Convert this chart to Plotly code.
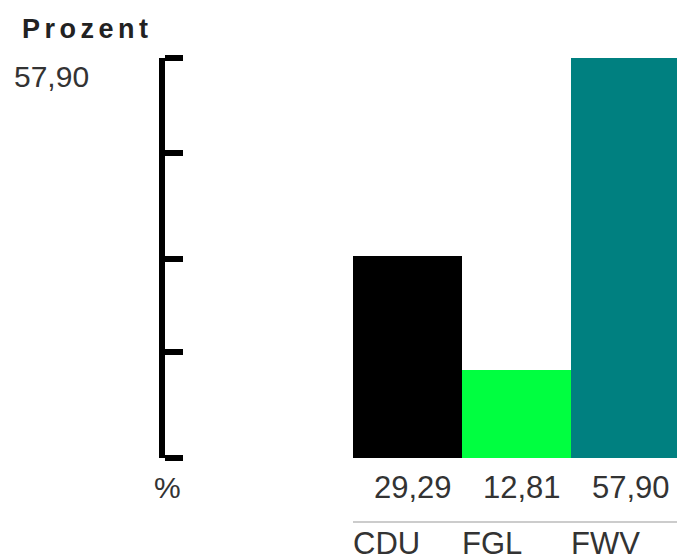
import plotly.graph_objects as go

parties = ["CDU", "FGL", "FWV"]
values = [29.29, 12.81, 57.90]
colors = ["#000000", "#00FF40", "#008080"]
axis_ticks = [0, 15.3, 28.8, 44.2, 57.9]
axis_title = "Prozent"
unit = "%"

W, H = 677, 559
FONT = "Liberation Sans, Arial, sans-serif"
TXT = "#333333"

def fmt(v):
    return f"{v:.2f}".replace(".", ",")

vmax = max(values)

fig = go.Figure()
fig.add_trace(go.Bar(
    x=parties, y=values, marker=dict(color=colors, line=dict(width=0)),
    hoverinfo="skip", showlegend=False,
))

annotations = []
for i, (p, v) in enumerate(zip(parties, values)):
    annotations.append(dict(x=i, y=(H - 487) / H, xref="x", yref="paper",
                            text=fmt(v), showarrow=False, xanchor="center", yanchor="middle",
                            xshift=5, font=dict(size=31, color=TXT, family=FONT)))
    annotations.append(dict(x=i - 0.5, y=(H - 543) / H, xref="x", yref="paper",
                            text=p, showarrow=False, xanchor="left", yanchor="middle",
                            xshift=-2, font=dict(size=31, color=TXT, family=FONT)))
annotations.append(dict(x=85 / W, y=(H - 29) / H, xref="paper", yref="paper",
                        text="<b>" + "\u200a\u200a".join(axis_title) + "</b>", showarrow=False,
                        xanchor="center", yanchor="middle",
                        font=dict(size=27, color="#222222", family=FONT)))
annotations.append(dict(x=51 / W, y=(H - 76) / H, xref="paper", yref="paper",
                        text=fmt(vmax), showarrow=False, xanchor="center", yanchor="middle",
                        font=dict(size=30, color=TXT, family=FONT)))
annotations.append(dict(x=167 / W, y=(H - 488) / H, xref="paper", yref="paper",
                        text=unit, showarrow=False, xanchor="center", yanchor="middle",
                        font=dict(size=30, color=TXT, family=FONT)))

fig.update_layout(
    width=W, height=H, margin=dict(l=0, r=0, t=0, b=0),
    paper_bgcolor="white", plot_bgcolor="white",
    bargap=0,
    xaxis=dict(domain=[353 / W, 1], range=[-0.5, -0.5 + (W - 353) / 109],
               showgrid=False, zeroline=False, showticklabels=False, ticks="",
               anchor="free", position=(H - 522) / H,
               showline=True, linecolor="#cccccc", linewidth=2),
    yaxis=dict(domain=[(H - 458) / H, (H - 58) / H], range=[0, vmax],
               anchor="free", position=162 / W, side="right",
               showline=True, linecolor="black", linewidth=6,
               ticks="outside", ticklen=18, tickwidth=6, tickcolor="black",
               tickvals=axis_ticks, showticklabels=False,
               showgrid=False, zeroline=False),
    annotations=annotations,
)

fig.write_html("out.html", config={"displayModeBar": False},
               post_script="document.body.style.margin='0';document.body.style.overflow='hidden';")
